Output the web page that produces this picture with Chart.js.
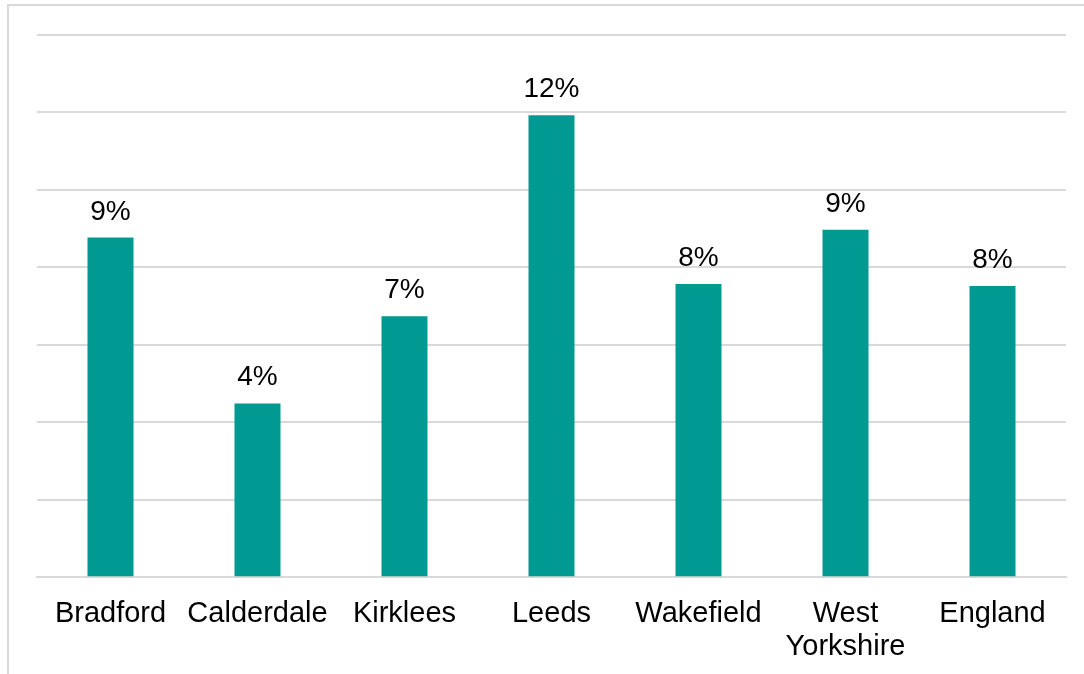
<!DOCTYPE html>
<html lang="en">
<head>
    <meta charset="UTF-8">
    <title>Percentage by area</title>
    <style>
        html, body {
            margin: 0;
            padding: 0;
            background: #fff;
            overflow: hidden;
        }
        #frame {
            position: absolute;
            left: 7px;
            top: 4px;
            width: 1200px;
            height: 800px;
            border-top: 2px solid #d9d9d9;
            border-left: 2px solid #d9d9d9;
        }
        #wrap {
            position: absolute;
            left: 0;
            top: 0;
            width: 1084px;
            height: 676px;
        }
    </style>
</head>
<body>
    <div id="frame"></div>
    <div id="wrap"><canvas id="areaChart"></canvas></div>

    <script src="https://cdn.jsdelivr.net/npm/chart.js"></script>
    <script>
        // data
        const areas = ['Bradford', 'Calderdale', 'Kirklees', 'Leeds', 'Wakefield', ['West', 'Yorkshire'], 'England'];
        const percentages = [8.77, 4.49, 6.74, 11.93, 7.57, 8.97, 7.52];
        const yMax = 14;
        const yStep = 2;

        const teal = '#009a93';

        // draws the "9%" style labels over each bar
        const valueLabels = {
            id: 'valueLabels',
            afterDatasetsDraw(chart) {
                const ctx = chart.ctx;
                const meta = chart.getDatasetMeta(0);
                ctx.save();
                ctx.font = '28px "Liberation Sans", Arial, sans-serif';
                ctx.fillStyle = '#000';
                ctx.textAlign = 'center';
                ctx.textBaseline = 'alphabetic';
                meta.data.forEach((bar, i) => {
                    ctx.fillText(Math.round(percentages[i]) + '%', bar.x, bar.y - 18);
                });
                ctx.restore();
            }
        };

        new Chart(document.getElementById('areaChart'), {
            type: 'bar',
            data: {
                labels: areas,
                datasets: [{
                    data: percentages,
                    backgroundColor: teal,
                    borderWidth: 0,
                    barPercentage: 0.313,
                    categoryPercentage: 1
                }]
            },
            options: {
                responsive: true,
                maintainAspectRatio: false,
                animation: false,
                layout: {
                    padding: { left: 37, right: 18, top: 35, bottom: 0 }
                },
                plugins: {
                    legend: { display: false },
                    tooltip: { enabled: false }
                },
                scales: {
                    x: {
                        grid: { display: false },
                        border: { color: '#d9d9d9', width: 2 },
                        ticks: {
                            color: '#000',
                            padding: 12,
                            maxRotation: 0,
                            autoSkip: false,
                            font: { family: '"Liberation Sans", Arial, sans-serif', size: 29, lineHeight: 1.15 }
                        }
                    },
                    y: {
                        min: 0,
                        max: yMax,
                        ticks: { display: false, stepSize: yStep },
                        border: { display: false },
                        grid: { color: '#d9d9d9', lineWidth: 2, drawTicks: false }
                    }
                }
            },
            plugins: [valueLabels]
        });
    </script>
</body>
</html>
